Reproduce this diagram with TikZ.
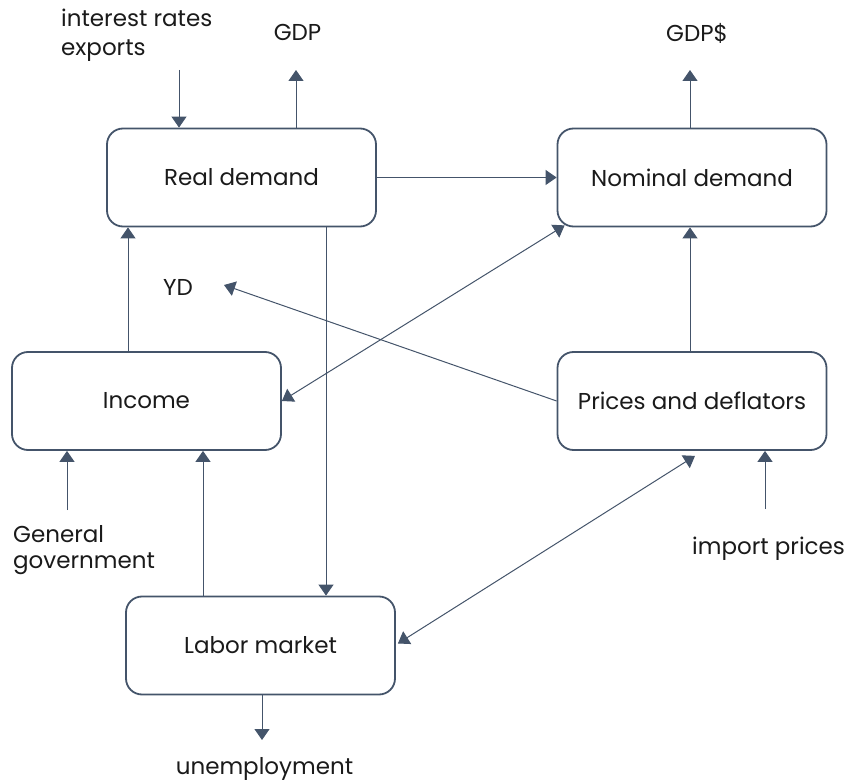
\documentclass[tikz,border=0pt]{standalone}
\usepackage{fontspec}
\setmainfont{Poppins}
\usetikzlibrary{arrows.meta}
\definecolor{slate}{HTML}{44546A}
\definecolor{txt}{HTML}{1A1A1A}
\begin{document}
\begin{tikzpicture}[x=1pt,y=-1pt,
  box/.style={draw=slate,line width=1.8pt,rounded corners=16pt,minimum width=269pt,minimum height=98pt,
    font=\fontsize{23}{27}\selectfont,text=txt,inner sep=0pt},
  lbl/.style={font=\fontsize{23}{27}\selectfont,inner sep=0pt,text=txt},
  arr/.style={draw=slate,line width=1pt,-{Triangle[width=15pt,length=11pt]}},
  darr/.style={draw=slate,line width=1pt,{Triangle[width=15pt,length=11pt]}-{Triangle[width=15pt,length=11pt]}}]
\useasboundingbox (0,0) rectangle (846,783);

% boxes
\node[box] (rd)  at (241.5,177.5) {Real demand};
\node[box] (nd)  at (692,177.5)   {Nominal demand};
\node[box] (inc) at (146.5,401)   {Income};
\node[box] (pd)  at (692,401)     {Prices and deflators};
\node[box] (lm)  at (260.5,645.5) {Labor market};

% labels
\node[lbl,anchor=north west,align=left,font=\fontsize{23}{29}\selectfont] (ire) at (61,9) {interest rates\\exports};
\node[lbl] (gdpl)  at (297.5,32) {GDP};
\node[lbl] (gdpnl) at (697,33) {GDP\$};
\node[lbl] (ydl)   at (178,287) {YD};
\node[lbl,anchor=north west,align=left,font=\fontsize{23}{26}\selectfont] (ggl) at (13,525) {General\\government};
\node[lbl,anchor=west] (ipl) at (692,549) {import prices};
\node[lbl] (unl) at (264.5,769) {unemployment};

% free ends / positions
\coordinate (ie)   at (179,70);
\coordinate (gdp)  at (296,70);
\coordinate (gdpn) at (690,70);
\coordinate (rdl)  at (326,0);
\coordinate (irx)  at (128,0);
\coordinate (ydt)  at (224,285);
\coordinate (gg)   at (67,510);
\coordinate (lx)   at (203,0);
\coordinate (ip)   at (765,509);
\coordinate (un)   at (262,740);

% connectors
\draw[arr] (ie) -- (ie |- rd.north);
\draw[arr] (gdp |- rd.north) -- (gdp);
\draw[arr] (gdpn |- nd.north) -- (gdpn);
\draw[arr] (rd.east) -- (nd.west);
\draw[arr] (rdl |- rd.south) -- (rdl |- lm.north);
\draw[arr] (irx |- inc.north) -- (irx |- rd.south);
\draw[arr] (pd.west) -- (ydt);
\draw[darr] (inc.east) -- ([xshift=8pt,yshift=2pt]nd.south west);
\draw[arr] (gdpn |- pd.north) -- (gdpn |- nd.south);
\draw[arr] (gg) -- (gg |- inc.south);
\draw[arr] (lx |- lm.north) -- (lx |- inc.south);
\draw[darr] ([xshift=2pt,yshift=2pt]lm.east) -- ([xshift=3pt,yshift=-5pt]pd.south);
\draw[arr] (ip) -- (ip |- pd.south);
\draw[arr] (un |- lm.south) -- (un);
\end{tikzpicture}
\end{document}
